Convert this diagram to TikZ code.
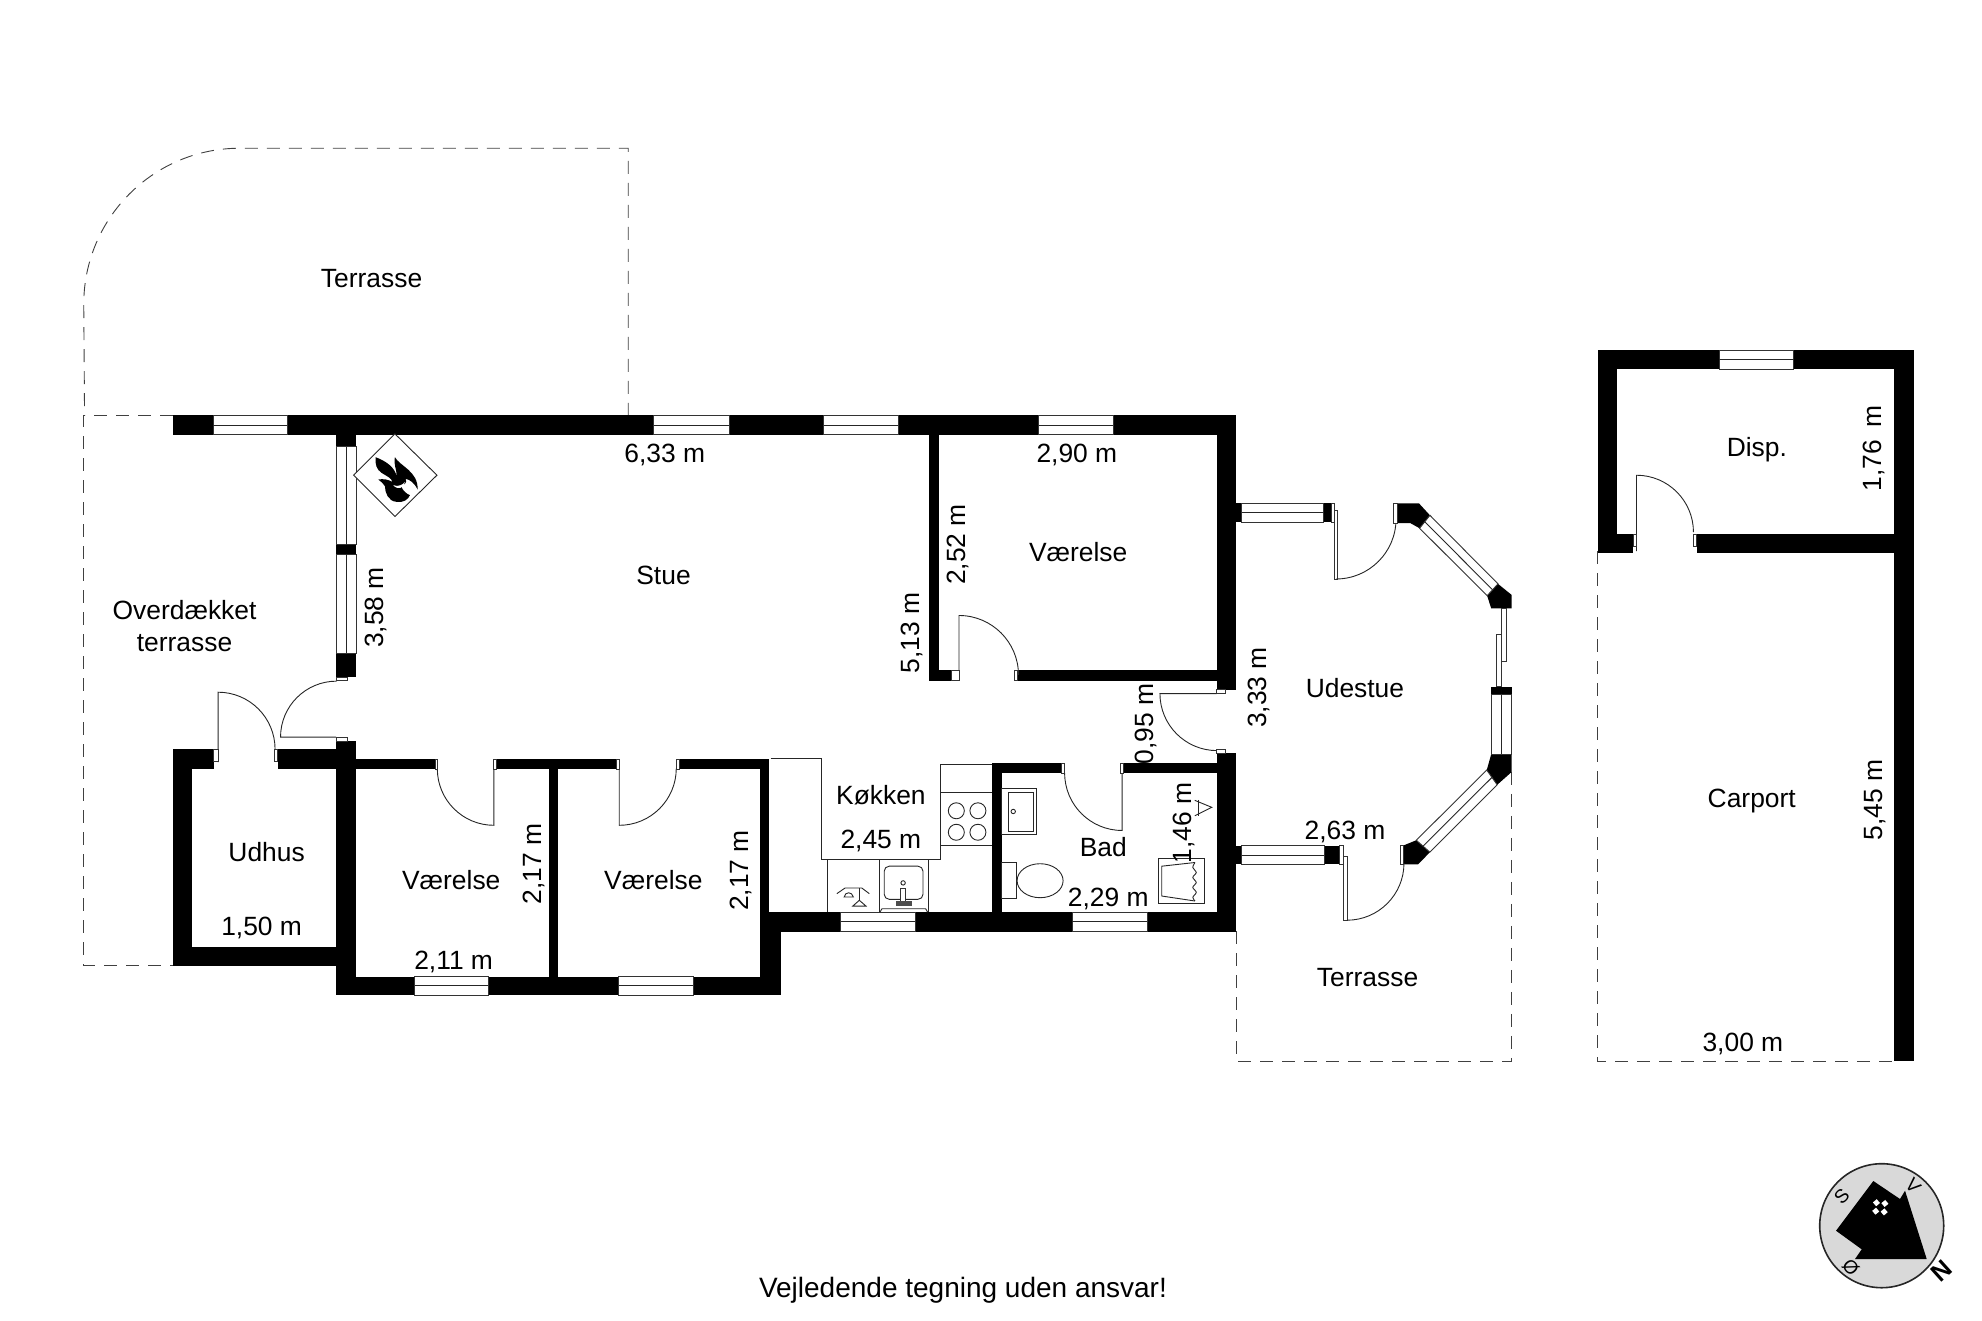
\documentclass[tikz,border=0pt]{standalone}
\usepackage{fontspec}
\setmainfont{Liberation Sans}
\usetikzlibrary{positioning}

\tikzset{
  wall/.style={fill=black},
  thinline/.style={draw=black!85, line width=0.9pt},
  pane/.style={draw=black!80, fill=white, line width=0.9pt},
  outline/.style={draw=black!75, line width=0.9pt, dash pattern=on 13pt off 9pt},
  lbl/.style={inner sep=0pt, font=\fontsize{26.4}{32}\selectfont, align=center},
  dim/.style={lbl, xshift=2pt, yshift=-1pt, rotate=90},
  compmark/.style={inner sep=0pt, font=\fontsize{19}{22}\selectfont}
}

\begin{document}
\begin{tikzpicture}[x=0.9948pt,y=-0.9948pt]

\useasboundingbox (0,0) rectangle (1992.36,1327.9);

% ===============================================================
% Open areas: dashed outlines
% ===============================================================

\draw[outline] (631.5,418) -- (631.5,149) -- (241,149) arc[start angle=90,end angle=180,radius=156pt] -- (85,418);
\draw[outline] (173.5,417.6) -- (84,417.6) -- (84,970.7) -- (173.5,970.7);
\draw[outline] (1519,776) -- (1519,1067) -- (1243,1067) -- (1243,936);
\draw[outline] (1606,554) -- (1606,1067) -- (1904,1067);

% ===============================================================
% Walls
% ===============================================================

\foreach \xa/\ya/\xb/\yb in {
  173.5/417.6/1242/437,      % north wall
  338/437/358/449,
  338/547.7/358/557,
  338/656.7/358/680.6,       % west wall
  338/745.2/358/1000.3,
  173.5/753.4/215/773.2,     % Udhus
  279/753.4/338/773.2,
  173.5/753.4/192.9/970.7,
  173.5/952.2/338/970.7,
  358/763/437.3/773,         % rooms south
  499.5/763/620/773,
  682.5/763/773/773,
  551.5/773/561.3/981.8,
  764/763/773/917,
  338/981.8/785/1000.3,
  764/917/785/981.8,
  764/916.9/1242/936.4,      % south wall
  933.5/437/943.5/684.2,     % north room
  933.5/673.8/956.8/684.2,
  1023/673.8/1223/684.2,
  1223/417.6/1242/693.2,
  1223/757.3/1242/936.4,
  996.9/767.4/1006.8/917,    % Bad
  996.9/767.4/1067.4/777.1,
  1129/767.4/1223/777.1,
  1242/506/1248/525,         % stubs
  1242/850/1248/869,
  1330.5/506/1338/525,
  1331/850/1346/869,
  1499/690.5/1519.5/698.4,
  1606/352/1728/371,         % Disp. and Carport
  1803/352/1924/371,
  1606/352/1625/556,
  1606/537/1641.7/556,
  1705.7/537/1924/556,
  1904/352/1924/1067
}{
  \fill[wall] (\xa,\ya) rectangle (\xb,\yb);
}

% corner blocks of the Udestue
\fill[wall] (1404.8,506) -- (1426.4,506) -- (1437.4,518) -- (1427,531) -- (1417.8,525.9) -- (1404.8,525.9) -- cycle;
\fill[wall] (1505.8,586.9) -- (1519.5,598) -- (1519.5,611.6) -- (1499,611.6) -- (1494.9,598.8) -- cycle;
\fill[wall] (1499,758.2) -- (1519.5,758.2) -- (1519.5,776) -- (1505,788.9) -- (1494.5,774.1) -- cycle;
\fill[wall] (1423.7,844.6) -- (1437.4,856.6) -- (1425.4,869) -- (1411,869) -- (1411,849.8) -- cycle;

% ===============================================================
% Windows
% ===============================================================

% east-west windows
\foreach \xa/\xb/\ya/\yb in {
  214.2/288.5/417.6/437, 657/733/417.6/437, 828/903/417.6/437, 1044/1119/417.6/437,
  417/491/981.8/1000.3, 622/697/981.8/1000.3,
  845/920/917/936.4, 1078/1153/917/936.4,
  1248/1330.5/506/525, 1248/1331/850/869,
  1728/1803/352/371
}{
  \draw[pane] (\xa,\ya) rectangle (\xb,\yb);
  \draw[thinline] (\xa,{(\ya+\yb)/2}) -- (\xb,{(\ya+\yb)/2});
}

% north-south windows
\foreach \xa/\xb/\ya/\yb in {
  338/358/449/547.7, 338/358/557/656.7, 1499/1519.5/698.4/758.2
}{
  \draw[pane] (\xa,\ya) rectangle (\xb,\yb);
  \draw[thinline] ({(\xa+\xb)/2},\ya) -- ({(\xa+\xb)/2},\yb);
}

% slanted windows
\draw[pane] (1437.4,518) -- (1505.8,586.9) -- (1494.9,598.8) -- (1427,531) -- cycle;
\draw[thinline] (1432.2,524.5) -- (1500.3,592.8);
\draw[pane] (1494.5,774.1) -- (1505,788.9) -- (1437.4,856.6) -- (1423.7,844.6) -- cycle;
\draw[thinline] (1499.7,781.5) -- (1430.5,850.6);

% sliding door
\draw[pane] (1509.2,611.6) rectangle (1514.4,664.6);
\draw[pane] (1504,637.5) rectangle (1509.2,690.5);

% ===============================================================
% Doors
% ===============================================================

\draw[thinline] (219.2,766) -- (219.2,695.8) arc[start angle=90,end angle=0,radius=57pt];
\draw[thinline] (338,741) -- (282,741) arc[start angle=180,end angle=90,radius=56pt];
\draw[thinline] (496.5,773) -- (496.5,829.6) arc[start angle=270,end angle=180,radius=56.6pt];
\draw[thinline] (622.5,773) -- (622.5,829.6) arc[start angle=270,end angle=360,radius=57pt];
\draw[thinline] (964,684) -- (964,618.7) arc[start angle=90,end angle=0,radius=59.5pt];
\draw[thinline] (1223,697.2) -- (1166,697.2) arc[start angle=180,end angle=270,radius=57pt];
\draw[thinline] (1128,777) -- (1128,834.8) arc[start angle=270,end angle=180,radius=57.5pt];
\draw[thinline] (1645,554) -- (1645,477.7) arc[start angle=90,end angle=0,radius=57pt];
\draw[pane] (1341,513) rectangle (1344.5,582);
\draw[thinline] (1343,582) arc[start angle=270,end angle=360,radius=60pt];
\draw[pane] (1350,861) rectangle (1354,925.5);
\draw[thinline] (1354,925) arc[start angle=270,end angle=360,radius=57pt];

% door jambs
\foreach \xa/\ya/\xb/\yb in {
  215/753.4/219.2/765, 276/753.4/279/765, 338.5/680.6/349/683.5, 338.5/741/349/745.2,
  437.3/763/440/773, 496.5/763/499.5/773, 620/763/622.5/773, 679.5/763/682.5/773,
  956.8/673.8/964/684.2, 1020/673.8/1023/684.2,
  1067.4/767.4/1070/777.1, 1126/767.4/1129/777.1,
  1223/693.2/1232/697.2, 1223/753.5/1232/757.3,
  1338/506/1341/525, 1400.8/506/1404.8/525.9, 1346/850/1350/869, 1408/850/1411/869,
  1641.7/537/1645/549, 1702.7/537/1705.7/549
}{
  \draw[pane] (\xa,\ya) rectangle (\xb,\yb);
}

\begin{scope}[xshift=4.5pt]

% ===============================================================
% Kitchen
% ===============================================================

\draw[thinline] (770,762.7) -- (821.6,762.7) -- (821.6,864.3) -- (940.6,864.3) -- (940.6,768) -- (992.4,768);
\draw[thinline] (940.6,797) -- (992.4,797);
\draw[thinline] (940.6,850) -- (992.4,850);
\draw[thinline] (827.5,864.3) -- (827.5,917);
\draw[thinline] (879.3,864.3) -- (879.3,917);
\draw[thinline] (928.3,864.3) -- (928.3,917);

\foreach \cx in {956.8,978.5}{
  \foreach \cy in {815,836.6}{
    \draw[thinline] (\cx,\cy) circle[radius=8pt];
  }
}

\draw[thinline, rounded corners=5pt] (884.3,870.7) rectangle (923.3,904);
\draw[thinline] (903.3,887.5) circle[radius=2.2pt];
\draw[pane] (901,893.3) rectangle (906,908.4);
\fill[black!70] (895.7,906) rectangle (912.3,910.8);
\draw[thinline] (880,917) -- (882,913.5) -- (926,913.5) -- (928,917);

% hob
\draw[thinline] (836.7,898.3) -- (845,892.6) -- (861.7,892.6) -- (869.3,898.3);
\draw[thinline] (859.3,892.6) -- (859.3,905);
\draw[thinline] (852.7,910.8) -- (859.3,905) -- (866,910.8) -- cycle;
\draw[thinline] (844,901.7) .. controls (845,896) and (852,896) .. (853.3,901.7) -- cycle;

% ===============================================================
% Bad
% ===============================================================

\draw[thinline] (1002.3,792.6) rectangle (1037,839);
\draw[thinline] (1009.4,797) rectangle (1034,835.5);
\draw[thinline] (1014,815.7) circle[radius=2.2pt];
\draw[thinline] (1002.3,867) rectangle (1017.3,903);
\draw[thinline] (1041,885.3) ellipse[x radius=23pt, y radius=17pt];
\draw[thinline] (1159.6,863) rectangle (1205.9,908.6);
\draw[thinline] (1196.7,867) -- (1163.3,870.7) -- (1163.3,900.7) -- (1196.7,905.7);
\draw[thinline] plot[smooth] coordinates {(1196.7,867) (1194.5,872) (1198,877) (1194.5,882) (1198,887) (1194.5,892) (1198,897) (1194.5,902) (1196.7,905.7)};

\end{scope}

\draw[thinline] (1201,804.5) -- (1218,811.5) -- (1201,820);
\draw[thinline] (1205,804) -- (1205,820);

% fire place
\begin{scope}[shift={(330,410)}, x=0.3333pt, y=-0.3333pt]
\draw[thinline, fill=white] (200,78) -- (326,202) -- (200,326) -- (76,202) -- cycle;
\fill (142,148) .. controls (175,160) and (200,180) .. (205,205)
   .. controls (205,180) and (195,170) .. (200,148)
   .. controls (215,175) and (270,190) .. (268,245)
   .. controls (258,225) and (245,215) .. (232,213)
   .. controls (238,225) and (228,230) .. (218,235)
   .. controls (225,250) and (235,258) .. (245,262)
   .. controls (240,275) and (225,285) .. (205,282)
   .. controls (180,280) and (170,255) .. (170,235)
   .. controls (165,225) and (158,222) .. (150,215)
   .. controls (165,212) and (180,215) .. (192,222)
   .. controls (190,210) and (175,205) .. (160,195)
   .. controls (145,185) and (140,170) .. (142,148) -- cycle;
\fill[white] (195,232) .. controls (210,238) and (225,230) .. (230,222) .. controls (228,240) and (208,248) .. (195,232) -- cycle;
\end{scope}

% ===============================================================
% Compass
% ===============================================================

\begin{scope}[x=1pt,y=-1pt]
\draw[draw=black!85, fill=black!15, line width=1.6pt] (1881.7,1225.7) circle[radius=62pt];
\fill (1873.3,1181) -- (1900,1199) -- (1905,1190.7) -- (1926.7,1259) -- (1855,1259) -- (1861.7,1249.3) -- (1836,1230.7) -- cycle;
\foreach \dx/\dy in {0/-6,6/0,0/6,-6/0}{
  \fill[white, rotate around={40:(1880.3,1207.3)}, xshift=\dx pt, yshift=\dy pt] (1877.8,1204.8) rectangle (1882.8,1209.8);
}
\node[compmark, rotate=45] (compS) at (1841.7,1196) {S};
\node[compmark, rotate=-48] (compV) at (1913.3,1185.7) {V};
\node[compmark, rotate=132] (compOe) at (1850.7,1267.3) {Ø};
\node[inner sep=0pt, font=\fontsize{25}{28}\selectfont\bfseries, rotate=-138] (compN) at (1941.7,1270.7) {N};
\end{scope}

% ===============================================================
% Labels
% ===============================================================

\node[lbl] (terrN) at (373.5,279.5) {Terrasse};
\node[lbl] (overd) at (185.5,628.9) {Overdækket\\terrasse};
\node[lbl] (stue) at (667,578) {Stue};
\node[lbl] (d633) at (668.3,457.3) {6,33 m};
\node[lbl] (vaerN) at (1083.8,555.2) {Værelse};
\node[lbl] (d290) at (1082.5,457.3) {2,90 m};
\node[dim] (d252) at (960.5,546.3) {2,52 m};
\node[dim] (d513) at (914.8,635) {5,13 m};
\node[dim] (d358) at (376,609.8) {3,58 m};
\node[lbl] (udest) at (1362,691.2) {Udestue};
\node[dim] (d333) at (1264,690) {3,33 m};
\node[dim] (d095) at (1150,726.7) {0,95 m};
\node[dim] (d146) at (1188,826) {1,46 m};
\node[lbl] (koek) at (885.5,799) {Køkken};
\node[lbl] (d245) at (885.5,845) {2,45 m};
\node[lbl] (bad) at (1109,851) {Bad};
\node[lbl] (d229) at (1114,903.3) {2,29 m};
\node[lbl] (d263) at (1352,835.9) {2,63 m};
\node[lbl] (terrS) at (1374.7,982.2) {Terrasse};
\node[lbl] (udhus) at (268,856.3) {Udhus};
\node[lbl] (d150) at (263,932.5) {1,50 m};
\node[lbl] (vaerA) at (453.6,884.2) {Værelse};
\node[dim] (d217a) at (535,867.8) {2,17 m};
\node[lbl] (d211) at (456,966.8) {2,11 m};
\node[lbl] (vaerB) at (656.8,884.2) {Værelse};
\node[dim] (d217b) at (743,874) {2,17 m};
\node[lbl] (disp) at (1766,452.3) {Disp.};
\node[dim] (d176) at (1881.6,449.8) {1,76 \,m};
\node[lbl] (carp) at (1760.9,805.5) {Carport};
\node[dim] (d545) at (1882.9,803) {5,45 m};
\node[lbl] (d300) at (1752,1049.5) {3,00 m};
\node[lbl, font=\fontsize{28}{32}\selectfont] (note) at (968,1297) {Vejledende tegning uden ansvar!};

\end{tikzpicture}
\end{document}
